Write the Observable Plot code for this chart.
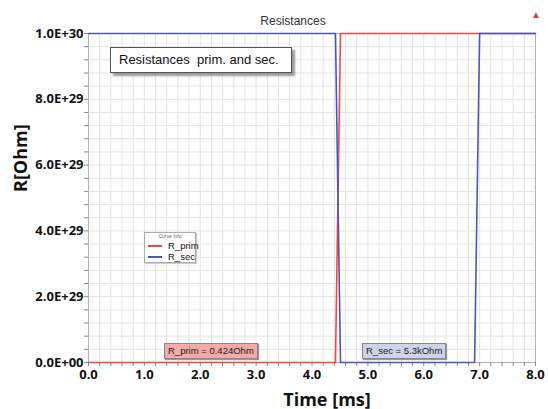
<!DOCTYPE html>
<html><head><meta charset="utf-8">
<script src="https://cdn.jsdelivr.net/npm/d3@7"></script>
<script src="https://cdn.jsdelivr.net/npm/@observablehq/plot@0.6"></script>
<style>
body{margin:0;background:#fff;font-family:"Open Sans",Arial,sans-serif}
#wrap{position:relative;width:548px;height:409px}
.box{position:absolute;white-space:nowrap}
</style></head><body><div id="wrap"></div>
<script>
const timePrim = [0, 4.42, 4.51, 8.0];
const rPrim = [0, 0, 1e30, 1e30];
const timeSec = [0, 4.42, 4.51, 6.91, 7.0, 8.0];
const rSec = [1e30, 1e30, 0, 0, 1e30, 1e30];
const xTicks = [0,1,2,3,4,5,6,7,8];
const yTicks = [0,2e29,4e29,6e29,8e29,1e30];
const xMinor = d3.range(0, 8.0001, 0.2);
const yMinor = d3.range(0, 1.00001e30, 4e28);
const seriesNames = ["R_prim", "R_sec"];
const seriesColors = ["#f04848", "#4858b8"];
const markerLabels = ["R_prim = 0.424Ohm", "R_sec = 5.3kOhm"];

const prim = timePrim.map((t,i)=>({t, r:rPrim[i]}));
const sec = timeSec.map((t,i)=>({t, r:rSec[i]}));
const fmtY = v => { const s = d3.format(".1e")(v).toUpperCase(); return s.replace(/E([+-])(\d)$/, "E$10$2"); };

const plot = Plot.plot({
  width: 548, height: 409,
  marginLeft: 88, marginRight: 13, marginTop: 33, marginBottom: 47,
  style: {fontFamily: "'Open Sans', Arial, sans-serif", background: "transparent"},
  x: {type: "linear", domain: [0, 8]},
  y: {type: "linear", domain: [0, 1e30]},
  marks: [
    Plot.ruleX(xMinor, {stroke: "#e4e4e4", strokeWidth: 1}),
    Plot.ruleY(yMinor, {stroke: "#e4e4e4", strokeWidth: 1}),
    Plot.frame({stroke: "#b0b0b0"}),
    Plot.axisX({ticks: xMinor, tickSize: 4, tickFormat: () => "", stroke: "#888", label: null}),
    Plot.axisY({ticks: yMinor, tickSize: 4, tickFormat: () => "", stroke: "#888", label: null}),
    Plot.axisX({ticks: xTicks, tickSize: 0, tickPadding: 7, tickFormat: d3.format(".1f"),
      fontSize: 13, fontWeight: "bold", fill: "#111", label: null}),
    Plot.axisY({ticks: yTicks, tickSize: 0, tickPadding: 5, tickFormat: fmtY,
      fontSize: 13, fontWeight: "bold", fill: "#111", label: null}),
    Plot.text(["Time [ms]"], {frameAnchor: "bottom", dx: 15, dy: 43, fontSize: 18, fontWeight: "bold", fill: "#111"}),
    Plot.text(["R[Ohm]"], {frameAnchor: "left", dx: -67, dy: -6, rotate: -90, fontSize: 18, fontWeight: "bold", fill: "#111"}),
    Plot.text(["Resistances"], {frameAnchor: "top", dx: -19, dy: -17, fontSize: 12, fill: "#333", fontFamily: "Arial, 'Liberation Sans', sans-serif"}),
    Plot.line(prim, {x: "t", y: "r", stroke: seriesColors[0], strokeWidth: 1.6}),
    Plot.line(sec, {x: "t", y: "r", stroke: seriesColors[1], strokeWidth: 1.6})
  ]
});
const wrap = document.getElementById("wrap");
plot.style.position = "absolute"; plot.style.left = "0"; plot.style.top = "0";
wrap.appendChild(plot);

function addBox(html, css){ const d=document.createElement("div"); d.className="box"; d.innerHTML=html; Object.assign(d.style, css); wrap.appendChild(d); return d; }
addBox("&#9650;", {left:"531px", top:"7px", fontSize:"10px", color:"#c84848"});
addBox("Resistances&nbsp; prim. and sec.", {left:"110px", top:"47px", width:"172px", height:"24px", lineHeight:"24px", paddingLeft:"8px",
  fontSize:"13px", color:"#111", background:"#fff", border:"1px solid #555", boxShadow:"3px 3px 2px #999", fontFamily:"Arial, 'Liberation Sans', sans-serif"});
addBox(`<div style="font-size:5px;text-align:center;color:#666;line-height:7px">Curve Info</div>`+
  seriesNames.map((n,i)=>`<div style="height:11px;line-height:11px;font-size:9.5px;color:#111"><span style="display:inline-block;width:14px;height:2px;background:${seriesColors[i]};vertical-align:middle;margin:0 6px 0 3px"></span>${n}</div>`).join(""),
  {left:"144px", top:"232px", width:"50px", height:"29px", background:"#fff", border:"1px solid #aaa", boxShadow:"1px 1px 1px #ccc", fontFamily:"Arial, 'Liberation Sans', sans-serif"});
addBox(markerLabels[0], {left:"164px", top:"343px", padding:"0 3px", height:"14px", lineHeight:"14px", fontSize:"9.5px", color:"#222",
  background:"#f5a9a9", border:"1px solid #888", boxShadow:"1px 1px 1px #999", fontFamily:"Arial, 'Liberation Sans', sans-serif"});
addBox(markerLabels[1], {left:"362px", top:"343px", padding:"0 3px", height:"14px", lineHeight:"14px", fontSize:"9.5px", color:"#222",
  background:"#cdd4ea", border:"1px solid #888", boxShadow:"1px 1px 1px #999", fontFamily:"Arial, 'Liberation Sans', sans-serif"});
</script></body></html>
